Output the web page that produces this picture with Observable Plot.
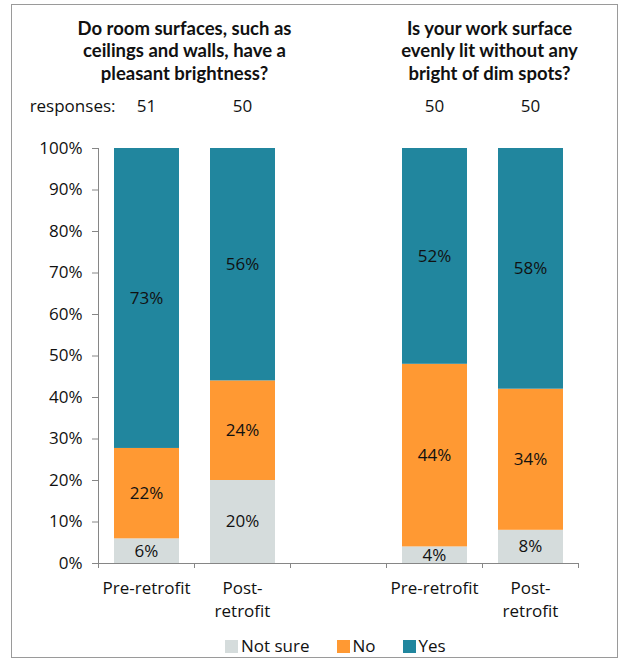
<!DOCTYPE html>
<html><head><meta charset="utf-8">
<script src="https://cdn.jsdelivr.net/npm/d3@7"></script>
<script src="https://cdn.jsdelivr.net/npm/@observablehq/plot@0.6"></script>
<style>
body{margin:0;background:#fff;font-family:"Open Sans",Lato,sans-serif;color:#111;}
#wrap{position:relative;width:623px;height:661px;overflow:hidden;}
#border{position:absolute;left:11px;top:4px;width:607px;height:654px;box-sizing:border-box;border:1.5px solid #9a9a9a;}
#chart{position:absolute;left:0;top:0;}
#legend{position:absolute;left:225px;top:637px;display:flex;gap:27px;font-size:17px;line-height:18px;}
#legend .item{display:flex;align-items:center;gap:3px;}
#legend .sw{width:13px;height:13px;display:inline-block;}
</style>
</head><body>
<div id="wrap"><div id="border"></div><div id="chart"></div><div id="legend"></div></div>
<script>
// ---- data ----
const questions = [
  "Do room surfaces, such as\nceilings and walls, have a\npleasant brightness?",
  "Is your work surface\nevenly lit without any\nbright of dim spots?"
];
const slots = ["q1-pre", "q1-post", "gap", "q2-pre", "q2-post"];
const slotLabels = ["Pre-retrofit", "Post-\nretrofit", "", "Pre-retrofit", "Post-\nretrofit"];
const barSlots = ["q1-pre", "q1-post", "q2-pre", "q2-post"];
const responses = [51, 50, 50, 50];
const series = ["Not sure", "No", "Yes"];
const notSure = [6, 20, 4, 8];
const no = [22, 24, 44, 34];
const yes = [73, 56, 52, 58];
const yTicks = [0, 0.1, 0.2, 0.3, 0.4, 0.5, 0.6, 0.7, 0.8, 0.9, 1];
const colors = ["#D5DCDC", "#FF9933", "#21869E"];

const values = [notSure, no, yes];
const data = barSlots.flatMap((s, i) => series.map((k, j) => ({slot: s, series: k, value: values[j][i]})));
const respData = barSlots.map((s, i) => ({slot: s, n: responses[i]}));
const labelMap = Object.fromEntries(slots.map((s, i) => [s, slotLabels[i]]));

const bw = 96;
const axisColor = "#868686";
const fs = 17;
const font = "'Open Sans', Lato, sans-serif";
const titleFont = "Lato, 'Open Sans', sans-serif";

const chart = Plot.plot({
  width: 623, height: 625,
  marginLeft: 98, marginRight: 45, marginTop: 148, marginBottom: 62,
  style: {fontFamily: font, fontSize: fs + "px", color: "#111", background: "transparent", overflow: "visible"},
  x: {type: "band", domain: slots, padding: 0, axis: null},
  y: {domain: [0, 1], axis: null},
  color: {domain: series, range: colors},
  marks: [
    Plot.barY(data, Plot.stackY({x: "slot", y: "value", fill: "series", offset: "normalize", insetLeft: 16, insetRight: 15})),
    Plot.text(data, Plot.stackY({x: "slot", y: "value", offset: "normalize", text: d => d.value + "%", fill: "#111", fontSize: fs})),
    Plot.ruleY([0], {stroke: axisColor}),
    Plot.ruleX([slots[0]], {dx: -bw / 2, y1: 0, y2: 1, stroke: axisColor}),
    Plot.ruleX(slots, {dx: -bw / 2, y1: 0, y2: 0, insetBottom: -5, stroke: axisColor}),
    Plot.ruleX([slots[slots.length - 1]], {dx: bw / 2, y1: 0, y2: 0, insetBottom: -5, stroke: axisColor}),
    Plot.axisY({ticks: yTicks, tickFormat: d3.format(".0%"), tickSize: 6, tickPadding: 10, stroke: axisColor, fill: "#111", fontSize: fs, label: null}),
    Plot.axisX({tickSize: 0, tickPadding: 14, tickFormat: d => labelMap[d], lineHeight: 1.35, fill: "#111", fontSize: fs, label: null}),
    // responses row
    Plot.text(respData, {x: "slot", text: d => String(d.n), frameAnchor: "top", lineAnchor: "top", dy: -49, fill: "#111", fontSize: fs}),
    Plot.text(["responses:"], {x: () => slots[0], text: d => d, frameAnchor: "top", lineAnchor: "top", dy: -49, dx: -31, textAnchor: "end", fill: "#111", fontSize: fs}),
    // titles
    Plot.text([questions[0]], {x: () => slots[1], text: d => d, dx: -bw / 2 - 10, frameAnchor: "top", lineAnchor: "top", dy: -130, fill: "#111", fontFamily: titleFont, fontSize: 18.5, fontWeight: "bold", lineHeight: 1.23}),
    Plot.text([questions[1]], {x: () => slots[4], text: d => d, dx: -bw / 2 + 7, frameAnchor: "top", lineAnchor: "top", dy: -130, fill: "#111", fontFamily: titleFont, fontSize: 18.5, fontWeight: "bold", lineHeight: 1.23})
  ]
});
document.getElementById("chart").appendChild(chart);

const legend = document.getElementById("legend");
series.forEach((s, i) => {
  const it = document.createElement("div");
  it.className = "item";
  it.innerHTML = `<span class="sw" style="background:${colors[i]}"></span><span>${s}</span>`;
  legend.appendChild(it);
});
</script>
</body></html>
